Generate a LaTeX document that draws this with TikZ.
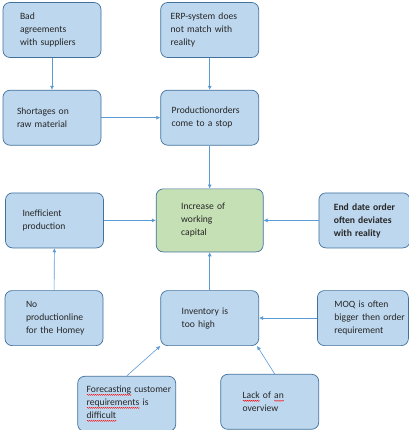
\documentclass[tikz,border=0pt]{standalone}
\usepackage{fontspec}
\setmainfont{Carlito}
\usetikzlibrary{positioning,arrows.meta,decorations.pathmorphing}

\definecolor{boxfill}{HTML}{BDD7EE}
\definecolor{boxline}{HTML}{41719C}
\definecolor{goalfill}{HTML}{C5E0B4}
\definecolor{linkcol}{HTML}{5B9BD5}
\definecolor{textcol}{HTML}{262626}

% no hyphenation inside the boxes
\hyphenpenalty=10000
\exhyphenpenalty=10000

% red wavy underline for flagged words
\newcommand\spellmark[1]{\leavevmode\setbox0\hbox{#1}\rlap{\raisebox{-2.2pt}{\tikz[baseline]\draw[red, line width=0.4pt, sharp corners, decorate, decoration={snake, amplitude=0.5pt, segment length=2pt}] (0,0) -- (\the\wd0,0);}}\box0\relax}

\begin{document}
\begin{tikzpicture}[font=\fontsize{9.6}{13}\selectfont, >={Latex[length=4pt,width=4pt]}]
    \tikzset{
        block/.style = {rectangle, rounded corners=7pt, draw=boxline, fill=boxfill, line width=0.7pt, text=textcol, align=left, minimum height=55pt, text width=98pt-2*#1, inner xsep=#1},
        block/.default = 12pt,
        goal/.style = {block=#1, fill=goalfill, minimum height=63pt, text width=107pt-2*#1},
        link/.style = {->, draw=linkcol, line width=0.6pt},
    }
    \useasboundingbox (0,0) rectangle (408pt,-430pt);

    \node [block=17pt] (bad) at (52pt,-30pt) {Bad\\agreements\\with suppliers};
    \node [block=10pt,right=59pt of bad] (erp) {ERP-system does\\not match with\\reality};

    \node [block=14pt,below=32pt of bad] (short) {Shortages on\\raw material};
    \node [block=11pt,below=32pt of erp] (prod) {Productionorders\\come to a stop};

    \node [goal=25pt,below=43pt of prod] (incr) {Increase of\\working\\capital};
    \node [block=17pt,left=52pt of incr] (ineff) {Inefficient\\production};
    \node [block=15pt,text width=91pt-30pt,right=55pt of incr] (enddate) {\bfseries End~date~order\\often~deviates\\with~reality};

    \node [block=21pt,below=38pt of incr] (inv) {Inventory is\\too high};
    \node [block=21pt,left=57pt of inv] (noline) {No\\productionline\\for~the~Homey};
    \node [block=17pt,text width=91pt-34pt,right=58pt of inv] (moq) {MOQ~is~often\\bigger~then~order\\requirement};

    \node [block=9pt,below=30pt of inv,xshift=-83pt] (fcst) {\spellmark{Forecasting}~customer\\\spellmark{requirements} is\\\spellmark{difficult}};
    \node [block=22pt,below=28pt of inv,xshift=60pt] (lack) {\spellmark{Lack} of \spellmark{an}\\overview};

    \draw [link] (bad) -- (short);
    \draw [link] (erp) -- (prod);
    \draw [link] (short) -- (prod);
    \draw [link] (prod) -- (incr);
    \draw [link] (ineff) -- (incr);
    \draw [link] (enddate) -- (incr);
    \draw [link] (noline) -- (ineff);
    \draw [link] (inv) -- (incr);
    \draw [link] (moq) -- (inv);
    \draw [link] (fcst.north) -- (inv.south west);
    \draw [link] ([xshift=5pt]lack.north) -- ([xshift=-2pt]inv.south east);
\end{tikzpicture}
\end{document}
